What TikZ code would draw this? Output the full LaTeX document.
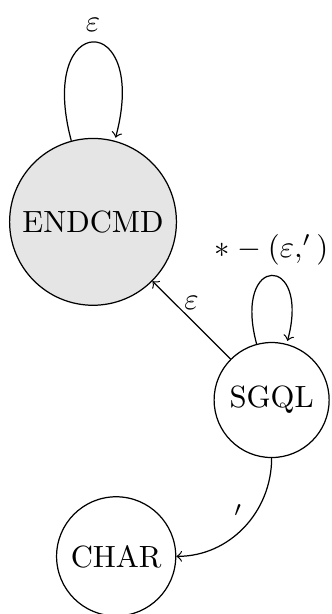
\documentclass[tikz,border=0pt]{standalone}
\usetikzlibrary{arrows}
\begin{document}
\begin{tikzpicture}[->, statenode/.style={circle, draw}]
    \useasboundingbox (0,0) rectangle (3.79,-7.03);

    % States
    \node[statenode, fill=gray!20] (endcmd) at (1.065,-2.54) {ENDCMD};
    \node[statenode] (sgql) at (3.11,-4.58) {SGQL};
    \node[statenode] (char) at (1.33,-6.37) {CHAR};

    % Transitions
    \path (endcmd) edge[loop above] node[above] {$\varepsilon$} (endcmd);
    \path (sgql) edge[loop above] node[above] {$*-(\varepsilon,')$} (sgql);
    \draw (sgql) -- node[above] {$\varepsilon$} (endcmd);
    \draw (sgql) to[out=-90, in=0] node[left, pos=0.4] {$'$} (char);
  \end{tikzpicture}
\end{document}
